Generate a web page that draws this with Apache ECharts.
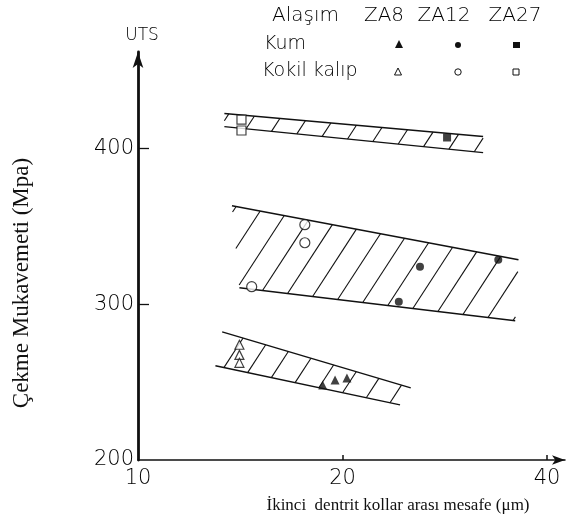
<!DOCTYPE html>
<html><head><meta charset="utf-8">
<script src="https://cdn.jsdelivr.net/npm/echarts@6/dist/echarts.min.js"></script>
<style>html,body{margin:0;padding:0;background:#fff}#c{width:568px;height:525px}</style>
</head><body><div id="c"></div>
<script>
// ---- data ----
const xTickValues = [10, 20, 40];
const yTickValues = [200, 300, 400];
// band corners: top-left, top-right, bottom-right, bottom-left  [x (µm), y (MPa)]
const bandZA27 = [[13.4, 422.5], [32.2, 407.7], [32.2, 397.4], [13.4, 414.1]];
const bandZA12 = [[13.75, 363.3], [36.3, 328.6], [35.9, 289.4], [14.1, 310.6]];
const bandZA8  = [[13.3, 282.3], [25.2, 246.3], [24.3, 235.4], [13.0, 260.5]];
const za8Kum    = [[18.7, 248.2], [19.5, 251.4], [20.3, 252.7]];
const za8Kokil  = [[14.1, 274.0], [14.1, 267.5], [14.1, 262.4]];
const za12Kum   = [[24.2, 301.6], [26.0, 324.1], [33.9, 328.6]];
const za12Kokil = [[17.6, 351.1], [17.6, 339.5], [14.7, 311.3]];
const za27Kum   = [[28.5, 407.1]];
const za27Kokil = [[14.2, 418.6], [14.2, 411.6]];

const bands = [bandZA27, bandZA12, bandZA8];

function clipSeg(p0, p1, poly) {
  let cx = 0, cy = 0;
  poly.forEach(p => { cx += p[0]; cy += p[1]; });
  cx /= poly.length; cy /= poly.length;
  let tE = 0, tL = 1;
  const d = [p1[0] - p0[0], p1[1] - p0[1]];
  for (let i = 0; i < poly.length; i++) {
    const a = poly[i], b = poly[(i + 1) % poly.length];
    let n = [-(b[1] - a[1]), b[0] - a[0]];
    if (n[0] * (cx - a[0]) + n[1] * (cy - a[1]) < 0) n = [-n[0], -n[1]];
    const num = n[0] * (p0[0] - a[0]) + n[1] * (p0[1] - a[1]);
    const den = n[0] * d[0] + n[1] * d[1];
    if (Math.abs(den) < 1e-9) { if (num < 0) return null; continue; }
    const t = -num / den;
    if (den > 0) tE = Math.max(tE, t); else tL = Math.min(tL, t);
    if (tE > tL) return null;
  }
  return [[p0[0] + tE * d[0], p0[1] + tE * d[1]], [p0[0] + tL * d[0], p0[1] + tL * d[1]]];
}

const INK = '#111';
const lineStyle = { stroke: INK, lineWidth: 1.4, fill: null };

function renderBand(params, api) {
  const pts = [0, 1, 2, 3].map(i => api.coord([api.value(2 * i), api.value(2 * i + 1)]));
  const children = [
    { type: 'polyline', shape: { points: [pts[0], pts[1]] }, style: lineStyle },
    { type: 'polyline', shape: { points: [pts[3], pts[2]] }, style: lineStyle }
  ];
  const xs = pts.map(p => p[0]), ys = pts.map(p => p[1]);
  const minX = Math.min(...xs), maxX = Math.max(...xs);
  const minY = Math.min(...ys) - 2, maxY = Math.max(...ys) + 2;
  const slope = 0.65, spacing = 27;
  const h = maxY - minY;
  for (let c = minX - slope * h + 6; c <= maxX + spacing; c += spacing) {
    const seg = clipSeg([c, maxY], [c + slope * h, minY], pts);
    if (seg && Math.hypot(seg[1][0] - seg[0][0], seg[1][1] - seg[0][1]) > 3) {
      children.push({ type: 'line', shape: { x1: seg[0][0], y1: seg[0][1], x2: seg[1][0], y2: seg[1][1] },
        style: { stroke: INK, lineWidth: 1.1 } });
    }
  }
  return { type: 'group', children };
}

const labelFont = { fontFamily: 'DejaVu Sans', fontWeight: 200, color: '#000' };

function scatter(name, data, symbol, size, filled) {
  return {
    type: 'scatter', name, data, symbol, symbolSize: size, z: 5,
    itemStyle: filled ? { color: INK } : { color: '#fff', borderColor: INK, borderWidth: 1.2 },
    silent: true
  };
}

const legendFont = '200 20px "DejaVu Sans"';
const chart = echarts.init(document.getElementById('c'), null, { renderer: 'canvas' });
chart.setOption({
  animation: false,
  backgroundColor: '#fff',
  grid: { left: 138, right: 3, top: 52, bottom: 65, containLabel: false, outerBoundsMode: 'none' },
  xAxis: {
    type: 'log', logBase: 10, min: 10, max: 42.5,
    axisLine: { show: true, lineStyle: { color: INK, width: 1.5 }, symbol: ['none', 'arrow'], symbolSize: [7, 13] },
    axisTick: { show: true, inside: true, length: 5, customValues: [20, 40], lineStyle: { color: INK, width: 1.5 } },
    axisLabel: Object.assign({ customValues: xTickValues, fontSize: 21, margin: 8 }, labelFont),
    splitLine: { show: false }, minorTick: { show: false }
  },
  yAxis: {
    type: 'value', min: 200, max: 462, interval: 100,
    name: 'UTS', nameLocation: 'end', nameGap: 8,
    nameTextStyle: Object.assign({ fontSize: 17, align: 'center', padding: [0, 0, 0, 8] }, labelFont),
    axisLine: { show: true, lineStyle: { color: INK, width: 2.8 }, symbol: ['none', 'arrow'], symbolSize: [8, 16] },
    axisTick: { show: true, inside: true, length: 11, customValues: [300, 400], lineStyle: { color: INK, width: 1.3 } },
    axisLabel: Object.assign({ customValues: yTickValues, fontSize: 21, margin: 4 }, labelFont),
    splitLine: { show: false }
  },
  series: [
    {
      type: 'custom', name: 'bands', z: 2, silent: true,
      data: bands.map(b => b.flat()),
      encode: { x: [0, 2, 4, 6], y: [1, 3, 5, 7] },
      renderItem: renderBand
    },
    scatter('ZA8 Kum', za8Kum, 'triangle', 9, true),
    scatter('ZA8 Kokil kalıp', za8Kokil, 'triangle', 9, false),
    scatter('ZA12 Kum', za12Kum, 'circle', 8, true),
    scatter('ZA12 Kokil kalıp', za12Kokil, 'circle', 10, false),
    scatter('ZA27 Kum', za27Kum, 'rect', 8, true),
    scatter('ZA27 Kokil kalıp', za27Kokil, 'rect', 9, false)
  ],
  graphic: [
    { type: 'text', x: 22, y: 283, rotation: Math.PI / 2,
      style: { text: 'Çekme Mukavemeti (Mpa)', font: '23px "Liberation Serif"', fill: '#111', align: 'center', verticalAlign: 'middle' } },
    { type: 'text', x: 398, y: 506,
      style: { text: 'İkinci  dentrit kollar arası mesafe (μm)', font: '17px "Liberation Serif"', fill: '#111', align: 'center', verticalAlign: 'middle' } },
    { type: 'text', x: 272, y: 16, style: { text: 'Alaşım', font: legendFont, fill: '#000', align: 'left', verticalAlign: 'middle' } },
    { type: 'text', x: 384, y: 16, style: { text: 'ZA8', font: legendFont, fill: '#000', align: 'center', verticalAlign: 'middle' } },
    { type: 'text', x: 444, y: 16, style: { text: 'ZA12', font: legendFont, fill: '#000', align: 'center', verticalAlign: 'middle' } },
    { type: 'text', x: 515, y: 16, style: { text: 'ZA27', font: legendFont, fill: '#000', align: 'center', verticalAlign: 'middle' } },
    { type: 'text', x: 264, y: 44, style: { text: 'Kum', font: '200 19px "DejaVu Sans"', fill: '#000', align: 'left', verticalAlign: 'middle' } },
    { type: 'text', x: 262, y: 71, style: { text: 'Kokil kalıp', font: '200 19px "DejaVu Sans"', fill: '#000', align: 'left', verticalAlign: 'middle' } },
    { type: 'polygon', shape: { points: [[399, 40], [395, 48], [403, 48]] }, style: { fill: INK } },
    { type: 'circle', shape: { cx: 458, cy: 45, r: 3 }, style: { fill: INK } },
    { type: 'rect', shape: { x: 513, y: 42, width: 7, height: 6 }, style: { fill: INK } },
    { type: 'polygon', shape: { points: [[398, 68], [394.5, 75], [401.5, 75]] }, style: { fill: '#fff', stroke: INK, lineWidth: 1 } },
    { type: 'circle', shape: { cx: 458, cy: 72, r: 3.2 }, style: { fill: '#fff', stroke: INK, lineWidth: 1 } },
    { type: 'rect', shape: { x: 513, y: 69, width: 6, height: 6 }, style: { fill: '#fff', stroke: INK, lineWidth: 1 } }
  ]
});
</script></body></html>
